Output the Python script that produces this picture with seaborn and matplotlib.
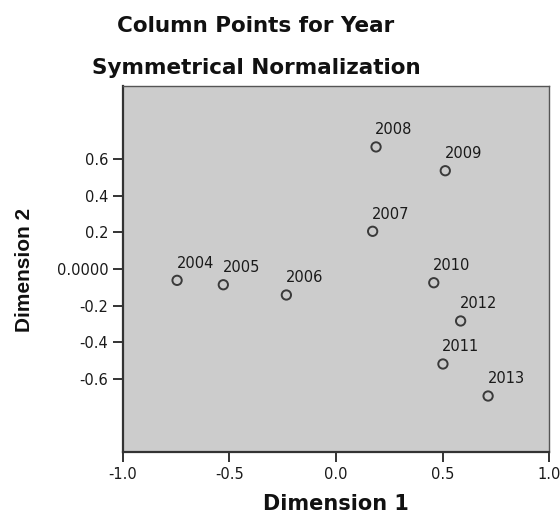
import matplotlib
matplotlib.use("Agg")
import matplotlib.pyplot as plt
import seaborn as sns
import pandas as pd

# Column points (Dimension 1, Dimension 2)
years = ["2004", "2005", "2006", "2007", "2008", "2009", "2010", "2011", "2012", "2013"]
dim1 = [-0.746, -0.529, -0.233, 0.172, 0.188, 0.513, 0.459, 0.502, 0.585, 0.714]
dim2 = [-0.062, -0.086, -0.142, 0.206, 0.667, 0.537, -0.075, -0.519, -0.284, -0.694]

x_ticks = [-1.0, -0.5, 0.0, 0.5, 1.0]
x_tick_labels = ["-1.0", "-0.5", "0.0", "0.5", "1.0"]
y_ticks = [-0.6, -0.4, -0.2, 0.0, 0.2, 0.4, 0.6]
y_tick_labels = ["-0.6", "-0.4", "-0.2", "0.0000", "0.2", "0.4", "0.6"]

sns.set_style("white", {"axes.facecolor": "#cccccc"})
plt.rcParams["font.family"] = ["DejaVu Sans"]

df = pd.DataFrame({"year": years, "dim1": dim1, "dim2": dim2})

fig = plt.figure(figsize=(5.6, 5.14), dpi=100)
ax = fig.add_axes([0.2196, 0.1206, 0.7608, 0.7121])

sns.scatterplot(
    data=df, x="dim1", y="dim2", ax=ax,
    s=45, facecolor="none", edgecolor="#3a3a3a", linewidth=1.4, legend=False,
)

for _, row in df.iterrows():
    ax.annotate(row["year"], (row["dim1"], row["dim2"]), xytext=(-0.5, 7),
                textcoords="offset points", ha="left", va="bottom",
                fontsize=10.5, color="#1a1a1a")

ax.set_xlim(-1.0, 1.0)
ax.set_ylim(-1.0, 1.0)
ax.set_xticks(x_ticks)
ax.set_xticklabels(x_tick_labels)
ax.set_yticks(y_ticks)
ax.set_yticklabels(y_tick_labels)
ax.set_xlabel("")
ax.set_ylabel("")
ax.tick_params(axis="both", direction="out", length=7.5, width=1.4,
               color="#333333", labelsize=10.5, labelcolor="#1a1a1a", pad=3)
ax.tick_params(axis="x", bottom=True)
ax.tick_params(axis="y", left=True)

for side in ["left", "bottom"]:
    ax.spines[side].set_color("#333333")
    ax.spines[side].set_linewidth(1.6)
for side in ["top", "right"]:
    ax.spines[side].set_color("#555555")
    ax.spines[side].set_linewidth(1.0)

fig.text(256 / 560, 1 - 32 / 514, "Column Points for Year", ha="center",
         va="baseline", fontsize=15.5, fontweight="bold", color="#111111")
fig.text(256 / 560, 1 - 74 / 514, "Symmetrical Normalization", ha="center",
         va="baseline", fontsize=15.5, fontweight="bold", color="#111111")
fig.text(336 / 560, 1 - 510 / 514, "Dimension 1", ha="center", va="baseline",
         fontsize=15, fontweight="bold", color="#111111")
fig.text(25 / 560, 1 - 270 / 514, "Dimension 2", ha="center", va="center",
         rotation=90, fontsize=15, fontweight="bold", color="#111111",
         family="Liberation Sans")

fig.savefig("out.png", dpi=100)
